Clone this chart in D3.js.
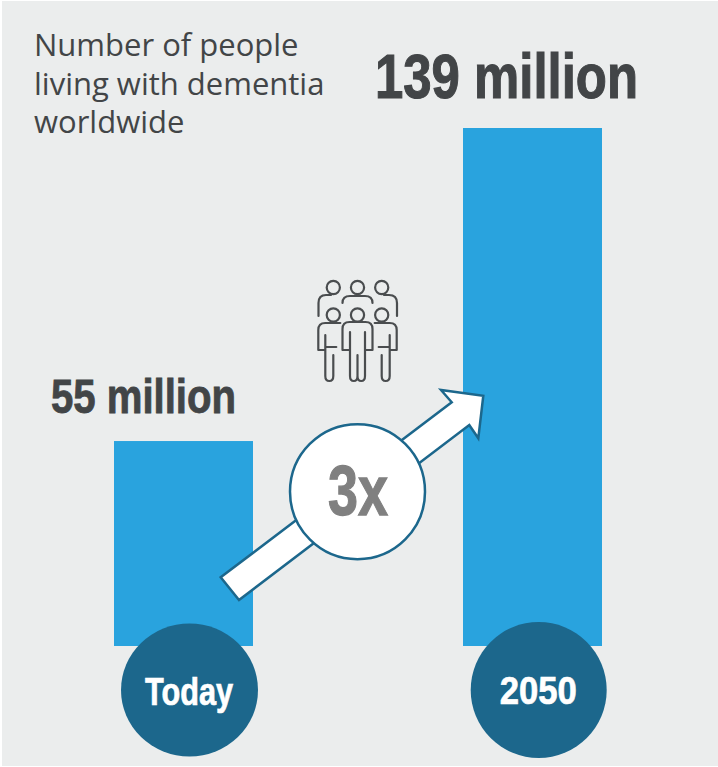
<!DOCTYPE html>
<html>
<head>
<meta charset="utf-8">
<script src="https://cdn.jsdelivr.net/npm/d3@7"></script>
<style>
  html, body { margin: 0; padding: 0; background: #fff; }
  svg { display: block; }
  .condensed { font-family: "Liberation Sans Narrow", "Liberation Sans", sans-serif; font-weight: 700; }
</style>
</head>
<body>
<svg id="chart" width="718" height="767"></svg>
<script>
// Dementia prevalence worldwide, in millions of people
const categories = ["Today", "2050"];
const values = [55, 139];
const titleLines = ["Number of people", "living with dementia", "worldwide"];
const multiplier = "3x";

const colors = { panel: "#ebeded", bar: "#29a3de", dark: "#1c678c", ink: "#424547", grey: "#808080" };

const svg = d3.select("#chart");
svg.append("rect").attr("x", 2).attr("y", 1).attr("width", 716).attr("height", 765).attr("fill", colors.panel);

const x = d3.scaleBand().domain(categories).range([114, 602]).paddingInner(210 / 349).paddingOuter(0);
const y = d3.scaleLinear().domain([0, 139]).range([646, 128]);

// Bars
svg.selectAll("rect.bar").data(categories).join("rect")
  .attr("class", "bar")
  .attr("x", d => x(d))
  .attr("y", (d, i) => y(values[i]))
  .attr("width", x.bandwidth())
  .attr("height", (d, i) => y(0) - y(values[i]))
  .attr("fill", colors.bar);

// Heading
svg.append("g").selectAll("text").data(titleLines).join("text")
  .attr("x", 34).attr("y", (d, i) => 56 + i * 38.5)
  .attr("font-family", "'Open Sans', sans-serif")
  .attr("font-size", 31).attr("fill", colors.ink)
  .text(d => d);

// Condensed heavy label, stretched to a fixed advance width
function heavy(str, cx, base, size, width, fill) {
  return svg.append("text").attr("class", "condensed")
    .attr("x", cx).attr("y", base).attr("text-anchor", "middle")
    .attr("font-size", size).attr("fill", fill)
    .attr("textLength", width).attr("lengthAdjust", "spacingAndGlyphs")
    .attr("stroke", fill).attr("stroke-width", size * 0.018)
    .text(str);
}
const valueLabels = [
  { cx: x(categories[0]) + x.bandwidth() / 2 - 40, base: 413, size: 48, width: 185 },
  { cx: x(categories[1]) + x.bandwidth() / 2 - 26, base: 98, size: 63, width: 263 }
];
values.forEach((v, i) => {
  const l = valueLabels[i];
  heavy(`${v} million`, l.cx, l.base, l.size, l.width, colors.ink);
});

// Growth arrow
const arrow = [[220.7, 577.3], [239, 600], [469.3, 425], [478.3, 438.3], [483.3, 395.7], [441, 390], [451.7, 402.3]];
svg.append("path").attr("d", d3.line()(arrow) + "Z")
  .attr("fill", "#fff").attr("stroke", colors.dark).attr("stroke-width", 2.5);

svg.append("circle").attr("cx", 357.5).attr("cy", 491.7).attr("r", 67.5)
  .attr("fill", "#fff").attr("stroke", colors.dark).attr("stroke-width", 2.5);
heavy(multiplier, 358, 515, 71, 60, colors.grey);

// Category badges
const badges = [
  { cx: 189.5, rx: 68.5, ry: 66.5, base: 705, size: 39, width: 88 },
  { cx: 538.7, rx: 68, ry: 68, base: 704, size: 39, width: 77 }
];
categories.forEach((c, i) => {
  const b = badges[i];
  svg.append("ellipse").attr("cx", b.cx).attr("cy", 690).attr("rx", b.rx).attr("ry", b.ry).attr("fill", colors.dark);
  heavy(c, b.cx - 0.5, b.base, b.size, b.width, "#fff");
});

// Crowd pictogram
const crowd = svg.append("g").attr("fill", "none").attr("stroke", "#4a4d4f")
  .attr("stroke-width", 2.2).attr("stroke-linecap", "round").attr("stroke-linejoin", "round");
[333.3, 357.5, 381.7].forEach(cx => {
  crowd.append("circle").attr("cx", cx).attr("cy", 287.5).attr("r", 6.6);
  crowd.append("circle").attr("cx", cx).attr("cy", 315).attr("r", 6.6);
});
crowd.append("path").attr("d", "M318.5,316V303Q318.5,295 326,295H331");
crowd.append("path").attr("d", "M342.5,303Q342.5,296 350,296H365Q372.5,296 372.5,303");
crowd.append("path").attr("d", "M397,316V303Q397,295 389,295H384");

const middle = "M-15,350V329Q-15,322 -8,322H8Q15,322 15,329V350H7.5V376Q7.5,381 3.7,381Q0,381 0,376V355M0,376Q0,381 -3.7,381Q-7.5,381 -7.5,376V350H-15M-7.5,332V350M7.5,332V350";
crowd.append("path").attr("d", middle).attr("transform", "translate(357.5,0)");
const side = "M-15,350V330Q-15,323 -8,323H7M-15,350H-8M-8,335V376Q-8,381 -4,381Q0,381 0,376V355M-8,347H3";
crowd.append("path").attr("d", side).attr("transform", "translate(333.3,0)");
crowd.append("path").attr("d", side).attr("transform", "translate(381.7,0) scale(-1,1)");
</script>
</body>
</html>
